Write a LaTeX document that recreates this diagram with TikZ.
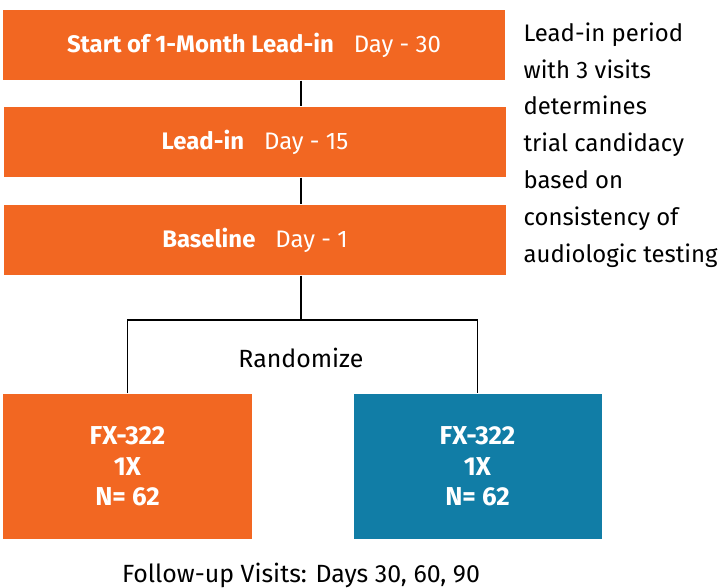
\documentclass[tikz,border=0pt]{standalone}
\usepackage{fontspec}
\setmainfont{Fira Sans}
\definecolor{leadorange}{HTML}{F26722}
\definecolor{armblue}{HTML}{117DA6}
\tikzset{
    visitbox/.style={fill=leadorange, text=white, minimum width=502bp, minimum height=70bp, inner sep=0pt, font=\fontsize{24}{28}\selectfont},
    armbox/.style={text=white, minimum width=248bp, minimum height=145bp, inner sep=0pt, align=center, font=\fontsize{26}{30.5}\selectfont\bfseries},
    plain/.style={font=\fontsize{25}{28}\selectfont, inner sep=0pt}
}
\begin{document}
\begin{tikzpicture}[x=1bp,y=-1bp,line width=1.2bp]
    \useasboundingbox (0,0) rectangle (724,588);
    % visits of the lead-in
    \node[visitbox] (start) at (254,45) {\textbf{Start of 1-Month Lead-in}\hspace{20bp}Day - 30};
    \node[visitbox] (leadin) at (255,142) {\textbf{Lead-in}\hspace{20bp}Day - 15};
    \node[visitbox] (baseline) at (255,240) {\textbf{Baseline}\hspace{20bp}Day - 1};
    \node[plain, anchor=north west, align=left, font=\fontsize{24}{37}\selectfont] (note) at (523,22)
        {Lead-in period\\with 3 visits\\determines\\trial candidacy\\based on\\consistency of\\audiologic testing};
    % arms
    \coordinate (fork) at (301,320);
    \node[plain] (rand) at (301,358) {Randomize};
    \node[armbox, fill=leadorange] (armA) at (127.5,466.5) {FX-322\\1X\\N= 62};
    \node[armbox, fill=armblue] (armB) at (477.5,466.5) {FX-322\\1X\\N= 62};
    \node[plain] (follow) at (301,575) {Follow-up Visits: Days 30, 60, 90};
    % connectors
    \draw (start.south -| fork) -- (leadin.north -| fork);
    \draw (leadin.south -| fork) -- (baseline.north -| fork);
    \draw (baseline.south -| fork) -- (fork);
    \draw (armA.north) |- (fork) -| (armB.north);
\end{tikzpicture}
\end{document}
